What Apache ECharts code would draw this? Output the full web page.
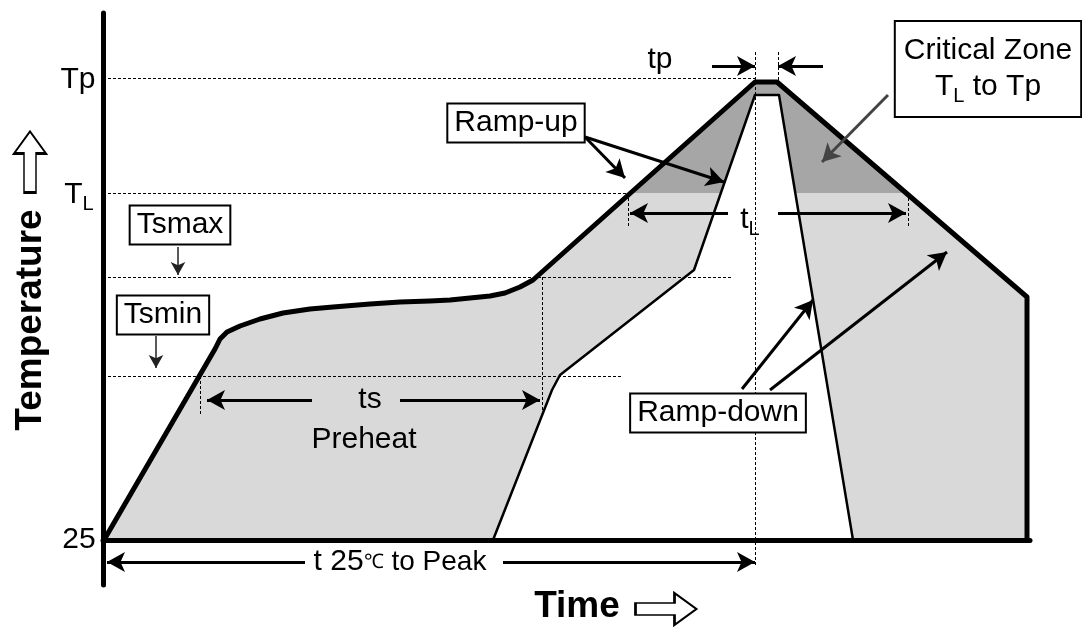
<!DOCTYPE html>
<html>
<head>
<meta charset="utf-8">
<script src="https://cdn.jsdelivr.net/npm/echarts@6/dist/echarts.min.js"></script>
<style>
html, body { margin: 0; padding: 0; background: #fff; }
#main { width: 1082px; height: 627px; }
</style>
</head>
<body>
<div id="main"></div>
<script>
// 1 unit = 1 px: time from the y axis, temperature from the 25 line
var outerProfile = [[1, 0], [112, 191], [117, 201], [124, 208], [137, 214], [157, 221], [180, 227], [207, 231], [230, 233], [267, 236], [297, 238], [327, 239], [347, 240], [367, 242], [387, 244], [402, 247], [417, 253], [430, 260], [652, 458], [674, 458], [924, 243], [924, 0]];
var innerProfile = [[390, 0], [449, 150], [457, 165], [591, 270], [652, 445], [676, 445], [750, 0]];
var criticalZone = [[527, 347], [652, 458], [674, 458], [803, 347]];
var levelTL = 347;

// dashed guide lines [from, to]
var dashLines = [
    [[0, 462], [652, 462]],   // Tp
    [[0, 347], [527, 347]],   // TL
    [[0, 263], [629, 263]],   // Tsmax
    [[0, 164], [519, 164]],   // Tsmin
    [[652, 488], [652, -27]],
    [[675, 488], [675, 458]],
    [[439, 263], [439, 128]],
    [[97, 164], [97, 125]],
    [[525, 347], [525, 313]],
    [[805, 347], [805, 313]]
];

// arrows [tail, tip]
var bigArrows = [
    [[209, 140], [104, 140]],
    [[297, 140], [437, 140]],
    [[202, -22], [4, -22]],
    [[400, -22], [652, -22]],
    [[609, 474], [652, 474]],
    [[720, 474], [675, 474]],
    [[482, 403], [522, 362]],
    [[482, 403], [621, 358]],
    [[625, 327], [527, 327]],
    [[675, 327], [803, 327]],
    [[639, 151], [710, 240]],
    [[667, 150], [844, 288]]
];
var greyArrows = [
    [[785, 445], [719, 378]]
];
var thinArrows = [
    [[75, 293], [75, 265]],
    [[53, 204], [53, 172]]
];

// plain texts [x, y, text]
var plainTexts = [
    [-25, 460, 'Tp'],
    [-24, 0, '25'],
    [557, 480, 'tp'],
    [267, 140, 'ts'],
    [261, 100, 'Preheat']
];
var boxTexts = [
    [77, 315, 'Tsmax'],
    [60, 225, 'Tsmin'],
    [413, 417, 'Ramp-up'],
    [615, 127, 'Ramp-down']
];

var FONT = "'Liberation Sans', Arial, sans-serif";
var myChart = echarts.init(document.getElementById('main'));

function toLines(list) {
    return list.map(function (a) {
        return [{coord: a[0]}, {coord: a[1]}];
    });
}

var labelData = [];
plainTexts.forEach(function (t) {
    labelData.push({
        value: [t[0], t[1]],
        label: {show: true, position: 'inside', formatter: t[2], fontSize: 30, fontFamily: FONT, color: '#000', textBorderWidth: 0}
    });
});
boxTexts.forEach(function (t) {
    labelData.push({
        value: [t[0], t[1]],
        label: {
            show: true, position: 'inside', formatter: t[2], fontSize: 30, fontFamily: FONT, color: '#000', textBorderWidth: 0,
            lineHeight: 32, backgroundColor: '#fff', borderColor: '#000', borderWidth: 2, padding: [3, 6, 2, 6]
        }
    });
});
var subRich = {
    a: {fontSize: 30, fontFamily: FONT, color: '#000', lineHeight: 34, textBorderWidth: 0},
    s: {fontSize: 20, fontFamily: FONT, color: '#000', padding: [18, 0, 0, 0], textBorderWidth: 0}
};
labelData.push({
    value: [-24, 345],
    label: {show: true, position: 'inside', formatter: '{a|T}{s|L}', rich: subRich, textBorderWidth: 0}
});
labelData.push({
    value: [647, 320],
    label: {show: true, position: 'inside', formatter: '{a|t}{s|L}', rich: subRich, textBorderWidth: 0}
});
labelData.push({
    value: [885, 471],
    label: {
        show: true, position: 'inside', formatter: '{a|Critical Zone}\n{a|T}{s|L}{a| to Tp}', rich: subRich, textBorderWidth: 0,
        backgroundColor: '#fff', borderColor: '#000', borderWidth: 2, padding: [12, 8, 10, 8]
    }
});
labelData.push({
    value: [297, -22],
    label: {
        show: true, position: 'inside', formatter: '{a|t 25}{c|℃}{b| to Peak}', textBorderWidth: 0,
        rich: {
            a: {fontSize: 30, fontFamily: FONT, color: '#000'},
            c: {fontSize: 20, fontFamily: FONT, color: '#000'},
            b: {fontSize: 28, fontFamily: FONT, color: '#000'}
        }
    }
});
labelData.push({
    value: [474, -67],
    label: {show: true, position: 'inside', formatter: 'Time', fontSize: 37, fontWeight: 'bold', fontFamily: FONT, color: '#000', textBorderWidth: 0}
});
labelData.push({
    value: [-72, 220],
    label: {show: true, position: 'inside', rotate: 90, formatter: 'Temperature', fontSize: 37, fontWeight: 'bold', fontFamily: FONT, color: '#000', textBorderWidth: 0}
});

// hollow direction arrows next to the axis titles
var hollowArrow = 'path://M0,10 L39,10 L39,0 L61,16 L39,32 L39,22 L0,22 Z';
var axisArrows = [[563, -69, 0], [-73, 378, 90]];

var option = {
    animation: false,
    grid: {left: 103, right: 52, top: 13, bottom: 42},
    xAxis: {
        type: 'value', min: 0, max: 927, z: 10,
        axisLine: {onZero: true, lineStyle: {color: '#000', width: 5}},
        axisTick: {show: false}, axisLabel: {show: false}, splitLine: {show: false}
    },
    yAxis: {
        type: 'value', min: -45, max: 527, z: 10,
        axisLine: {show: true, lineStyle: {color: '#000', width: 5, cap: 'round'}},
        axisTick: {show: false}, axisLabel: {show: false}, splitLine: {show: false}
    },
    series: [
        {
            // light grey window
            type: 'line', z: 1, silent: true, symbol: 'none', data: outerProfile,
            lineStyle: {width: 0}, areaStyle: {color: '#d9d9d9', opacity: 1}
        },
        {
            // critical zone above TL
            type: 'line', z: 2, silent: true, symbol: 'none', data: criticalZone,
            lineStyle: {width: 0}, areaStyle: {color: '#a6a6a6', opacity: 1, origin: levelTL}
        },
        {
            // inner (minimum) profile
            type: 'line', z: 3, silent: true, symbol: 'none', data: innerProfile,
            lineStyle: {color: '#000', width: 2.5, join: 'round'}, areaStyle: {color: '#fff', opacity: 1}
        },
        {
            // outer (maximum) profile
            type: 'line', z: 6, silent: true, symbol: 'none', data: outerProfile,
            lineStyle: {color: '#000', width: 5, join: 'round'},
            markLine: {
                silent: true, symbol: ['none', 'none'], z: 6,
                lineStyle: {color: '#000', width: 1, type: [3, 2]},
                label: {show: false},
                data: toLines(dashLines)
            }
        },
        {
            type: 'line', z: 7, silent: true, symbol: 'none', data: [],
            markLine: {
                silent: true, symbol: ['none', 'arrow'], symbolSize: [15, 18], z: 7,
                lineStyle: {color: '#000', width: 3, type: 'solid'},
                label: {show: false},
                data: toLines(bigArrows)
            }
        },
        {
            type: 'line', z: 7, silent: true, symbol: 'none', data: [],
            markLine: {
                silent: true, symbol: ['none', 'arrow'], symbolSize: [15, 18], z: 7,
                lineStyle: {color: '#444', width: 3, type: 'solid'},
                itemStyle: {color: '#444'},
                label: {show: false},
                data: toLines(greyArrows)
            }
        },
        {
            type: 'line', z: 7, silent: true, symbol: 'none', data: [],
            markLine: {
                silent: true, symbol: ['none', 'arrow'], symbolSize: [11, 13], z: 7,
                lineStyle: {color: '#222', width: 1.5, type: 'solid'},
                label: {show: false},
                data: toLines(thinArrows)
            }
        },
        {
            type: 'scatter', z: 8, silent: true, clip: false,
            symbol: hollowArrow, symbolSize: [61, 32],
            itemStyle: {color: '#fff', borderColor: '#000', borderWidth: 2, opacity: 1},
            data: axisArrows.map(function (a) { return {value: [a[0], a[1]], symbolRotate: a[2]}; })
        },
        {
            type: 'scatter', z: 9, silent: true, clip: false, symbolSize: 0,
            itemStyle: {opacity: 1},
            data: labelData
        }
    ]
};
myChart.setOption(option);
</script>
</body>
</html>
